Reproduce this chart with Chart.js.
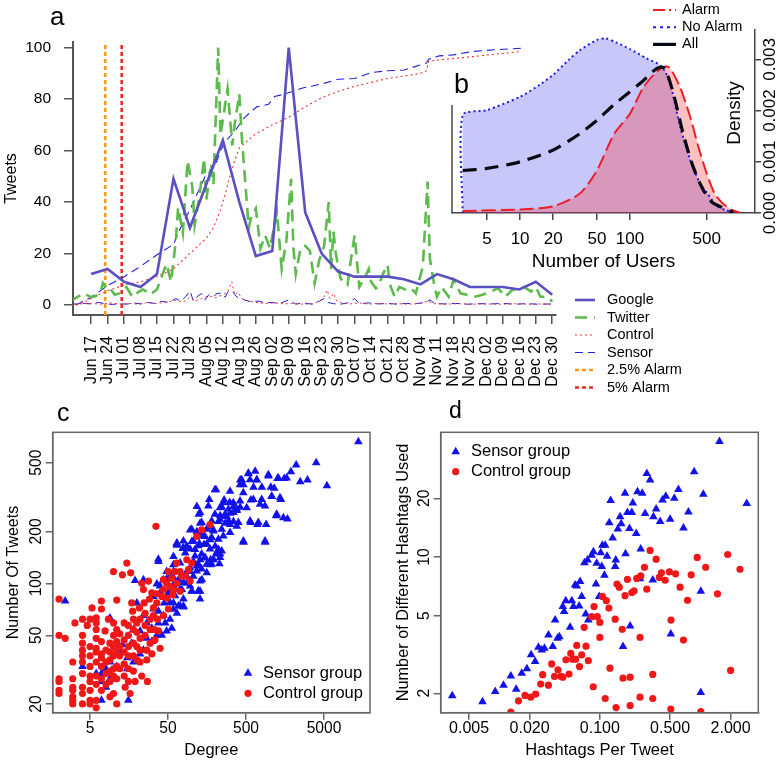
<!DOCTYPE html>
<html>
<head>
<meta charset="utf-8">
<script src="https://cdn.jsdelivr.net/npm/chart.js@4.4.0/dist/chart.umd.min.js"></script>
<style>
  body { margin: 0; background: #fff; }
  #wrap { position: relative; width: 783px; height: 764px; overflow: hidden; }
  canvas { position: absolute; }
</style>
</head>
<body>
<div id="wrap">
  <canvas id="chartA" width="783" height="400" style="left:0;top:0"></canvas>
  <canvas id="chartB" width="343" height="280" style="left:440px;top:0"></canvas>
  <canvas id="chartC" width="392" height="369" style="left:0;top:395px"></canvas>
  <canvas id="chartD" width="393" height="369" style="left:390px;top:395px"></canvas>
</div>
<script>
// ---- panel a: weekly google / daily twitter, sensor and control ----
const weekLabels = ['Jun 17','Jun 24','Jul 01','Jul 08','Jul 15','Jul 22','Jul 29','Aug 05','Aug 12','Aug 19','Aug 26',
  'Sep 02','Sep 09','Sep 16','Sep 23','Sep 30','Oct 07','Oct 14','Oct 21','Oct 28','Nov 04','Nov 11','Nov 18',
  'Nov 25','Dec 02','Dec 09','Dec 16','Dec 23','Dec 30'];
const googleTweets = [12,14,9,7,12,49,30,47,64,40,19,21,100,36,20,13,11,11,11,10,8,12,10,7,7,7,6,9,4];
const tweetTicks = [0,20,40,60,80,100];

// days counted from Jun 17
const twitterDays = [-9,-7,-5,-3,0,2,4,5,7,8,10,12,15,17,18,20,22,24,25,28,30,32,34,36,37,39,41,43,44,46,48,49,51,52,54,
  55,58,60,61,63,64,67,68,70,72,74,76,79,81,83,85,86,87,89,91,93,95,97,99,101,102,103,104,106,107,109,110,112,114,116,
  118,119,121,122,124,126,127,129,131,134,136,138,141,143,144,146,147,149,152,154,157,160,163,166,170,173,176,179,182,
  184,187,189,191,194,196];
const twitterTweets = [1.3,2.5,3.5,4.5,3,3.5,5,8.5,6,6.5,4,4.5,7,4,3,5,6,5,4,6,11,16,9,25,38,28,56,46,31,42,57,41,55,47,100,
  66,84,62,70,82,66,30,34,37.5,22,27,22,36,14,25,49,22,12,22,23,21,8.4,17.5,22.7,40,14,28.5,20,10.4,9,7.8,15,27,7,10,
  14,9,6.5,7,12,15.6,8,3.2,7,5.8,6.5,4.5,15,48,18,7,3.2,7,3.2,9.7,4.5,3.9,3.2,3.9,5.2,6.5,3.2,5.8,6.5,
  7,5.2,7,3.2,3.2,1.3];

const sensorCumDays = [-6.5,-3,0,7,14,21,28,35,38,42,45,48.5,52.7,55,57,61,65.4,70.4,75.4,78,82.4,89.5,98,105,112,119,126,
  133,140,142.5,143.5,148,154,162,172,183];
const sensorCum = [0,1.5,3,7.5,11,15,19.5,23.5,30,37,43,50,54,60,63.5,67.5,73,77,78,81,82,84.2,85.9,87.7,88,90.3,91,
  91.3,93.3,94,95.5,96.8,97.2,98.5,99.2,99.8];
const controlCumDays = [-6.5,-2,3,7,14,21,28,35,42,49,52,55,57,59,61,63,66,70,77,84,91,98,105,112,119,126,133,140,142.5,
  143.5,154,162,172,183];
const controlCum = [0,1.5,4,5.5,7.8,9,11,14,20,26,30,37,43,50,56,61,63.5,66.5,70,73,77,80.5,83,85,86.5,88,89,90,91,
  94.8,95.8,96.5,97.5,98.5];

const sensorDailyDays = [-9,-6,-3,0,3,6,9,12,15,18,21,24,27,30,33,36,38,40,42,43.5,45,47,48.5,50,52,53.5,55.5,57,58,60,
  61.5,63,65,68,71,74,77,80,84,87,90,94,97,99,100.5,103,106,109,112,114,118,122,126,130,134,138,142,144,146,150,155,160,
  165,170,175,180,185,190,196];
const sensorDaily = [0.5,0.3,0.6,0.4,1,0.5,0.2,0.5,0.3,0.8,0.4,1,0.6,1.4,1,2.5,1.5,3,5.5,1.5,3.2,4.5,2,4,3.2,4.5,4.5,3,5,5.5,
  3.5,2.5,2,1.2,1.5,0.8,1,0.5,2,0.3,0.8,0.3,1.5,2.5,1,0.5,0.3,0.8,2.5,0.5,0.8,0.4,0.6,0.3,0.6,0.5,1,2,0.6,0.4,0.6,0.3,
  0.5,0.4,0.6,0.3,0.5,0.3,0.4];
const controlDailyDays = [-9,-5,0,4,8,12,16,20,24,28,32,36,39,42,44,47,50,53,56,58,59.8,61,62.5,64,67,70,74,78,82,86,90,94,
  97,99,100.3,101.5,103,104.5,107,110,114,118,122,126,130,135,140,143,146,150,156,162,168,174,180,186,192,196];
const controlDaily = [0.2,0.4,0.6,0.3,0.8,0.4,0.6,0.3,0.9,0.5,1.2,1.8,1,3,1.5,2.5,3.5,2.8,4,5,9,4,5,2.5,1.5,1,0.6,0.8,0.4,0.6,
  0.3,0.5,1.5,3,5.8,2.5,4.5,1.5,0.6,0.4,0.8,0.3,0.6,0.4,0.5,0.3,0.6,1.5,0.5,0.3,0.5,0.3,0.4,0.3,0.5,0.3,0.4,0.3];
const alarmDays = [6, 13];

// ---- panel b: density of number of users ----
const userTicks = [5,10,20,50,100,500];
const densityTicks = [0,0.001,0.002,0.003];
const densityLabels = ['0.000','0.001','0.002','0.003'];
const noAlarmUsers = [3,3,5,10,15,20,28,35,50,60,75,100,142,195,232,286,353,434,500,616,760,1040];
const noAlarmDensity = [0,0.00191,0.00201,0.00227,0.0025,0.0027,0.003,0.00318,0.00338,0.00341,0.00333,0.0032,0.00302,
  0.00286,0.00253,0.00169,0.00104,0.00058,0.0004,0.00014,0.00005,0];
const alarmUsers = [3,10,20,35,50,72,100,133,175,210,232,286,353,420,500,590,705,870,1040];
const alarmDensity = [0.00004,0.00007,0.00013,0.00038,0.00083,0.00155,0.00194,0.00246,0.00276,0.00286,0.00283,0.00246,
  0.00188,0.00129,0.00077,0.00038,0.00018,0.00005,0];
const allUsers = [3,5,10,20,35,50,72,125,175,206,248,305,375,460,560,705,870];
const allDensity = [0.00083,0.00087,0.001,0.00123,0.00155,0.00181,0.00212,0.00254,0.00282,0.00283,0.00234,0.00155,
  0.00091,0.00047,0.00021,0.0001,0.00001];

// ---- panel c: degree vs number of tweets, [degree, tweets] ----
const degreeTicks = [5,50,500,5000];
const tweetCountTicks = [20,50,100,200,500];
const sensorC = [[13800,662],[3970,500],[2200,485],[5450,368],[3070,397],[2480,388],[1880,443],[1545,405],[1270,405],
  [970,418],[688,397],[538,432],[655,446],[421,397],[464,372],[624,360],[797,360],[1040,360],[1150,355],[1070,318],
  [1400,306],[1220,246],[1700,236],[905,219],[700,219],[576,225],[464,173],[880,173],[576,304],[421,276],[345,279],
  [309,294],[262,304],[245,276],[206,348],[169,306],[124,251],[117,279],[233,246],[284,244],[313,255],[381,264],
  [381,214],[345,228],[313,219],[270,223],[222,228],[191,204],[165,212],[149,187],[129,223],[136,195],[117,199],
  [96,204],[101,175],[87,164],[77,159],[65,166],[111,157],[126,170],[145,168],[173,179],[201,164],[222,157],[211,148],
  [233,148],[176,137],[149,140],[129,137],[117,126],[106,134],[96,117],[87,117],[71.5,131],[58.7,128],[58.7,117],
  [53,110],[48,117],[37.7,134],[43.7,105],[36,99],[58.7,98],[68,105],[87,100],[75,92],[62,92],[129,103],[157,115],
  [173,128],[228,130],[191,137],[101,90],[123,90],[136,105],[50.5,86],[44.6,77],[58.7,77],[71.5,74],[79,73],[65,67],
  [53,62],[46,59],[37.7,59],[31,55],[26.7,48],[31,46],[35.9,50],[41.6,50],[48,53],[55.8,55],[24.2,65],[19.9,77],
  [32.5,84],[39.6,88],[32.5,71],[26.7,59],[21.9,53],[18,54],[17,45],[13,44],[15,37],[12,40],[11,33],[9,35],[8,32],
  [7,30],[6,30],[4,33],[7,27],[9,28],[10,28],[15,32],[18,35],[21.9,39],[24.2,41],[9,63],[15.5,21],[8,25],[7,21],[2.4,79],
  [18.9,104],[24.2,105],[37.7,69],[43.7,65],[129,90],[58.7,143],[83,150],[65,171],
  [200,349],[312,342],[419,373],[563,398],[685,398],[462,335],[621,306],[794,306],[256,293],[344,293],[419,300],
  [164.5,281],[232,274],[297,269],[380,269],[510,274],[756,287],[876,281],[128.5,257],[200,251],[269,251],[344,257],
  [181.5,230],[232,235],[297,230],[399,225],[563,230],[720,225],[135,225],[100.5,206],[156.6,206],[190.6,201],
  [244,206],[312,197],[142,188],[181.5,184],[221,180],[256,188],[78.7,176],[105.6,176],[156.6,169],[122.4,165],
  [78.7,161],[95.7,158],[172.7,158],[210,151],[244,154],[135,148],[64.6,169],[111,144],[149,141],[190.6,138],[232,141],
  [122.4,129],[156.6,129],[181.5,129],[95.7,123],[116.5,118],[135,121],[86.7,110],[105.6,110],[78.7,101],[95.7,96.6],
  [58.5,108],[71.2,92.4],[100.5,90.4],[122.4,90.4],[61.5,84.7],[78.7,81],[48,106],[39.5,96.6],[50.5,88.3],[53,77.5],
  [67.8,74],[128.5,81],[58.5,70.8],[78.7,74],[37.6,138],[462,176],[876,176],[1505,240],[1236,251],[1066,320],
  [1364,313],[967,425],[1298,407],[1660,407],[535,434],[440,398]];
const controlC = [[2,81],[2,50],[2,28],[2,27],[2,24],[2,23],[3,28],[3,25],[3,24],[3,22],[3,21],[3,20],[2.4,48],[3,35],
  [4,62],[4,50],[4,45],[4,41],[4,38],[4,35],[4,30],[4,25],[4,23],[4,20],[5,62],[5,43],[5,38],[5,33],[5,29],[5,27],[5,24],
  [5,21],[5,20],[6,63],[6,59],[6,54],[6,48],[6,42],[6,40],[6,35],[6,29],[6,26],[6,21],[6,19],[7,79],[7,46],[7,39],
  [7,37],[7,33],[7,28],[7,24],[8,41],[8,35],[8,30],[8,26],[9,45],[9,40],[9,36],[9,31],[9,27],[9,22],[10,59],[10,50],
  [10,43],[10,38],[10,32],[10,29],[10,23],[11,80],[11,54],[11,46],[11,40],[11,33],[11,28],[11,20],[12,51],[12,43],
  [12,38],[12,32],[13,112],[13.7,59],[13.7,47],[13.7,40],[13.7,34],[13.7,29],[14.1,25],[14.8,131],[15.5,57],[15.5,50],
  [15.5,43],[15.5,38],[15.5,32],[15.5,27],[16.3,23],[17.1,77],[17.6,69],[18,62],[18,54],[18,45],[18,38],[18,31],
  [18.9,27],[19.9,59],[19.9,52],[19.9,43],[19.9,36],[21.5,72],[21.9,62],[21.9,48],[21.9,41],[21.9,35],[23,29],[24.2,92],
  [24.7,77],[25.4,67],[25.4,57],[25.4,50],[26.7,41],[26.7,36],[27.2,27],[28.1,103],[28.9,81],[29.5,62],[29.5,54],
  [29.5,45],[31,39],[32.5,72],[32.5,65],[33.2,54],[34,47],[35,214],[35.9,87],[35.9,77],[36.6,62],[37.7,53],[39.6,42],
  [41.6,84],[43.7,105],[43.7,92],[43.7,65],[48,100],[48,82],[50.5,117],[53,96],[55.8,107],[58.7,92],[61.7,117],
  [64.8,131],[64.8,100],[71.5,117],[71.5,90],[75,110],[83,110],[87,137],[91.5,120],[96,103],[101,131],[117,187],
  [135,204],[173,219],[57.5,86],[50.5,71],[31,88],[23,100],[16.6,115],[10,117],[7,71],[8.6,62],[7.8,53],[5.3,72],
  [4.6,57],[3.2,59]];

// ---- panel d: hashtags per tweet vs number of hashtags, [perTweet, hashtags] ----
const perTweetTicks = [0.005,0.02,0.1,0.5,2];
const perTweetLabels = ['0.005','0.020','0.100','0.500','2.000'];
const hashtagTicks = [2,5,10,20];
const sensorD = [[0.0034,1.94],[0.0068,1.81],[0.0091,2.04],[0.011,2.2],[0.013,2.45],[0.0147,2.1],[0.0167,2.53],
  [0.0188,2.67],[0.0207,3.15],[0.0227,2.91],[0.0245,3.44],[0.0264,3.33],[0.0281,3.4],[0.0308,3.98],[0.034,3.47],
  [0.0379,3.83],[0.0396,3.9],[0.0359,4.75],[0.0428,5.57],[0.0441,5.25],[0.0458,5.97],[0.0526,5.97],[0.0506,4.36],
  [0.0546,5.57],[0.0567,7.19],[0.0589,7.1],[0.0622,5.6],[0.0636,7.48],[0.066,6.28],[0.0724,5.1],[0.0768,4.75],
  [0.0703,9.35],[0.0755,9.66],[0.0829,10.2],[0.0863,10.65],[0.093,9.3],[0.0915,7.27],[0.0985,6.28],[0.1045,8.93],
  [0.106,11.5],[0.113,11.5],[0.102,10.5],[0.111,8.05],[0.118,10.1],[0.124,15],[0.128,19.5],[0.134,12.5],[0.144,9.66],
  [0.142,8.93],[0.151,13.9],[0.159,16.1],[0.163,14.8],[0.17,3.47],[0.178,21.2],[0.18,10.4],[0.188,16.9],[0.197,14],
  [0.2,4.43],[0.213,18.9],[0.208,16.9],[0.23,13.2],[0.237,21.6],[0.251,7.74],[0.255,11],[0.264,21.2],[0.293,26.8],
  [0.316,24.8],[0.282,16.7],[0.336,7.62],[0.341,16.1],[0.363,17.6],[0.398,15.2],[0.42,19.6],[0.453,20.5],[0.5,15.6],
  [0.508,4.03],[0.55,20],[0.605,22.2],[0.679,14.1],[0.761,17],[0.867,27.4],[1.01,6.68],[1.01,2.02],[1.07,21],
  [1.55,39.1],[2.89,18.8]];
const controlD = [[0.013,1.6],[0.0155,1.83],[0.018,1.95],[0.0205,1.91],[0.023,1.98],[0.0258,2.23],[0.027,2.49],
  [0.0308,2.2],[0.0332,2.83],[0.0354,2.44],[0.0383,2.64],[0.041,2.44],[0.0428,2.42],[0.046,2.97],[0.0493,2.51],
  [0.0514,3.2],[0.0537,2.99],[0.0574,2.99],[0.0589,3.52],[0.0627,2.74],[0.066,3.15],[0.0698,4.36],[0.0728,3.49],
  [0.0768,2.94],[0.0829,4.94],[0.086,2.16],[0.0875,5.57],[0.0944,4.94],[0.1,4.62],[0.1,3.87],[0.106,6.28],[0.113,1.88],
  [0.116,5.97],[0.123,5.47],[0.126,2.69],[0.142,4.8],[0.145,1.69],[0.148,7.27],[0.156,7],[0.167,4.26],[0.17,2.39],
  [0.178,6.33],[0.188,7.67],[0.2,2.42],[0.2,1.73],[0.208,6.57],[0.219,6.7],[0.233,7.76],[0.251,3.87],[0.251,1.91],
  [0.255,8],[0.278,8.86],[0.293,6.84],[0.316,10.8],[0.336,2.5],[0.336,1.88],[0.363,9.74],[0.39,7.86],[0.41,8.3],
  [0.446,7.6],[0.492,8.38],[0.51,4.75],[0.508,1.66],[0.567,8.2],[0.628,7],[0.679,3.75],[0.745,6],[0.81,8.1],
  [0.93,9.95],[1.01,1.61],[1.13,8.86],[1.48,6.47],[1.87,10.3],[2,2.62],[2.48,8.65]];

// ---- helpers ----
const FONT = '"Liberation Sans", Arial, Helvetica, sans-serif';
Chart.defaults.font.family = FONT;
Chart.defaults.color = '#000';
Chart.defaults.animation = false;
Chart.defaults.plugins.legend.display = false;
Chart.defaults.plugins.tooltip.enabled = false;

const BLUE = 'rgb(18,18,232)';
const RED = 'rgb(238,24,24)';
const GRAY = '#666';

const pts = (xs, ys) => xs.map((x, i) => ({ x, y: ys[i] }));
const pairs = arr => arr.map(([x, y]) => ({ x, y }));
const fixTicks = vals => scale => { scale.ticks = vals.map(v => ({ value: v })); };

function axisStyle(color, tick, width) {
  return {
    grid: { drawOnChartArea: false, drawTicks: true, tickLength: tick, color, lineWidth: 1.5 },
    border: { display: true, color, width: width || 1.5 }
  };
}

function line(label, data, color, width, dash, order) {
  return { label, data, borderColor: color, backgroundColor: color, borderWidth: width, borderDash: dash,
    showLine: true, pointRadius: 0, fill: false, tension: 0, order };
}

function text(ctx, str, x, y, size, align, rot) {
  ctx.save();
  ctx.font = size + 'px ' + FONT;
  ctx.fillStyle = '#000';
  ctx.textAlign = align || 'left';
  ctx.textBaseline = 'middle';
  ctx.translate(x, y);
  if (rot) ctx.rotate(-Math.PI / 2);
  ctx.fillText(str, 0, 0);
  ctx.restore();
}

function rotatedTicks(chart, axis, vals, labels, x, size) {
  const s = chart.scales[axis];
  vals.forEach((v, i) => text(chart.ctx, labels[i], x, s.getPixelForValue(v), size, 'center', true));
}

function legendLine(ctx, x0, x1, y, ds) {
  ctx.save();
  ctx.strokeStyle = ds.borderColor;
  ctx.lineWidth = ds.borderWidth;
  ctx.setLineDash(ds.borderDash || []);
  ctx.beginPath(); ctx.moveTo(x0, y); ctx.lineTo(x1, y); ctx.stroke();
  ctx.restore();
}

function legendMark(ctx, x, y, ds) {
  ctx.save();
  ctx.fillStyle = ds.backgroundColor;
  Chart.helpers.drawPoint(ctx, { pointStyle: ds.pointStyle, radius: ds.pointRadius, rotation: 0, borderWidth: 0 }, x, y);
  ctx.restore();
}

const framePlugin = {
  id: 'frame',
  afterDraw(chart) {
    const a = chart.chartArea, ctx = chart.ctx;
    ctx.save();
    ctx.strokeStyle = GRAY; ctx.lineWidth = 1.5;
    ctx.strokeRect(a.left, a.top, a.right - a.left, a.bottom - a.top);
    ctx.restore();
  }
};

// ---- chart a ----
const weekDays = weekLabels.map((_, i) => i * 7);
const A_MIN = -3.9, A_MAX = 102.2;
const alarmLine = d => [{ x: d, y: A_MIN }, { x: d, y: A_MAX }];

new Chart(document.getElementById('chartA'), {
  type: 'scatter',
  data: { datasets: [
    line('Google', pts(weekDays, googleTweets), '#5a50c0', 2.6, [], 0),
    line('Twitter', pts(twitterDays, twitterTweets), '#5cbb4c', 2.6, [12, 7], 1),
    line('Control', pts(controlCumDays, controlCum), '#f03232', 1.1, [2, 3], 2),
    line('Sensor', pts(sensorCumDays, sensorCum), '#2020d8', 1.1, [8, 5], 3),
    line('', pts(controlDailyDays, controlDaily), '#f03232', 1, [2, 3], 4),
    line('', pts(sensorDailyDays, sensorDaily), '#2020d8', 1, [8, 5], 5),
    line('2.5% Alarm', alarmLine(alarmDays[0]), '#ff9a14', 2.6, [4, 3], 6),
    line('5% Alarm', alarmLine(alarmDays[1]), '#e4301e', 2.6, [4, 3], 7)
  ]},
  options: {
    responsive: false, devicePixelRatio: 1,
    layout: { padding: { left: 0, top: 42, right: 227, bottom: 0 } },
    scales: {
      x: {
        type: 'linear', min: -7.7, max: 197.6,
        afterBuildTicks: fixTicks(weekDays),
        afterFit: s => { s.height = 85; },
        ticks: { autoSkip: false, minRotation: 90, maxRotation: 90, padding: 12, font: { size: 16 },
          callback: (v, i) => weekLabels[i] },
        ...axisStyle('#555', 9, 2)
      },
      y: {
        min: A_MIN, max: A_MAX,
        afterBuildTicks: fixTicks(tweetTicks),
        afterFit: s => { s.width = 73; },
        ticks: { padding: 13, font: { size: 15.5 } },
        ...axisStyle('#555', 9, 2),
        title: { display: true, text: 'Tweets', font: { size: 16 }, padding: { top: 2 } }
      }
    }
  },
  plugins: [{
    id: 'decorA',
    afterDraw(chart) {
      const ctx = chart.ctx;
      text(ctx, 'a', 50, 18, 26);
      const named = chart.data.datasets.filter(ds => ds.label);
      named.forEach((ds, i) => {
        const y = 300 + i * 17.5;
        legendLine(ctx, 575, 595, y, ds);
        text(ctx, ds.label, 607, y, 14.5);
      });
    }
  }]
});

// ---- chart b (inset) ----
const B_MAX = 0.003574;
new Chart(document.getElementById('chartB'), {
  type: 'scatter',
  data: { datasets: [
    { label: 'No Alarm', data: pts(noAlarmUsers, noAlarmDensity), showLine: true, pointRadius: 0, tension: 0.25,
      borderColor: '#1c1ce0', borderWidth: 2, borderDash: [2, 3], fill: 'origin', backgroundColor: 'rgba(40,40,235,0.26)', order: 3 },
    { label: 'Alarm', data: pts(alarmUsers, alarmDensity), showLine: true, pointRadius: 0, tension: 0.25,
      borderColor: '#e8202a', borderWidth: 2, borderDash: [14, 5], fill: 'origin', backgroundColor: 'rgba(255,45,45,0.3)', order: 2 },
    { label: 'All', data: pts(allUsers, allDensity), showLine: true, pointRadius: 0, tension: 0.25,
      borderColor: '#0a0a14', borderWidth: 3.2, borderDash: [14, 8], fill: false, order: 1 }
  ]},
  options: {
    responsive: false, devicePixelRatio: 1,
    layout: { padding: { left: 12, top: 30, right: 0, bottom: 0 } },
    plugins: { filler: { drawTime: 'beforeDatasetsDraw' } },
    scales: {
      x: {
        type: 'logarithmic', min: 2.4, max: 1375,
        afterBuildTicks: fixTicks(userTicks),
        afterFit: s => { s.height = 67; },
        ticks: { padding: 9.5, font: { size: 17, lineHeight: 1.1 }, callback: v => String(v) },
        ...axisStyle('#444', 7),
        title: { display: true, text: 'Number of Users', font: { size: 19 }, padding: { top: 0, bottom: 6.6 } }
      },
      y: {
        position: 'right', min: 0, max: B_MAX,
        afterBuildTicks: fixTicks(densityTicks),
        afterFit: s => { s.width = 28; },
        ticks: { display: false },
        ...axisStyle('#444', 6)
      }
    }
  },
  plugins: [{
    id: 'decorB',
    afterDraw(chart) {
      const ctx = chart.ctx, a = chart.chartArea, ys = chart.scales.y;
      ctx.save();
      ctx.strokeStyle = '#444'; ctx.lineWidth = 1.5;
      ctx.beginPath(); ctx.moveTo(a.left, ys.getPixelForValue(0.00211)); ctx.lineTo(a.left, a.bottom); ctx.stroke();
      ctx.restore();
      rotatedTicks(chart, 'y', densityTicks, densityLabels, 330, 17);
      text(ctx, 'Density', 295, 113, 19, 'center', true);
      text(ctx, 'b', 14, 86, 27);
      const ds = chart.data.datasets;
      const rows = [[ds[1], 'Alarm', [12, 4, 2, 4]], [ds[0], 'No Alarm', [3, 4]], [ds[2], 'All', []]];
      rows.forEach(([d, name, dash], i) => {
        const y = 10 + i * 17.2;
        legendLine(ctx, 213, 236, y, { borderColor: d.borderColor, borderWidth: d.borderWidth, borderDash: dash });
        text(ctx, name, 242, y, 14.5);
      });
    }
  }]
});

// ---- chart c ----
const scatterSets = (sensor, control) => [
  { label: 'Control group', data: pairs(control), pointStyle: 'circle', pointRadius: 3.6, backgroundColor: RED, borderWidth: 0, order: 1 },
  { label: 'Sensor group', data: pairs(sensor), pointStyle: 'triangle', pointRadius: 5, backgroundColor: BLUE, borderWidth: 0, order: 2 }
];

new Chart(document.getElementById('chartC'), {
  type: 'scatter',
  data: { datasets: scatterSets(sensorC, controlC) },
  options: {
    responsive: false, devicePixelRatio: 1,
    layout: { padding: { left: 0, top: 37.3, right: 22, bottom: 0 } },
    scales: {
      x: {
        type: 'logarithmic', min: 1.66, max: 19450,
        afterBuildTicks: fixTicks(degreeTicks),
        afterFit: s => { s.height = 51.3; },
        ticks: { padding: 0, font: { size: 15.6, lineHeight: 1.1 }, callback: v => String(v) },
        ...axisStyle(GRAY, 7),
        title: { display: true, text: 'Degree', font: { size: 16.5 }, padding: { top: 0, bottom: 4.1 } }
      },
      y: {
        type: 'logarithmic', min: 17.8, max: 750,
        afterBuildTicks: fixTicks(tweetCountTicks),
        afterFit: s => { s.width = 52.7; },
        ticks: { display: false },
        ...axisStyle(GRAY, 7),
        title: { display: true, text: 'Number Of Tweets', font: { size: 16 }, padding: { top: 4.4 } }
      }
    }
  },
  plugins: [framePlugin, {
    id: 'decorC',
    afterDraw(chart) {
      const ctx = chart.ctx, ds = chart.data.datasets;
      rotatedTicks(chart, 'y', tweetCountTicks, tweetCountTicks.map(String), 36.5, 15.6);
      text(ctx, 'c', 57, 19, 25);
      legendMark(ctx, 248, 278.3, ds[1]); text(ctx, ds[1].label, 263, 278.3, 16.5);
      legendMark(ctx, 248, 298.3, ds[0]); text(ctx, ds[0].label, 263, 298.3, 16.5);
    }
  }]
});

// ---- chart d ----
new Chart(document.getElementById('chartD'), {
  type: 'scatter',
  data: { datasets: scatterSets(sensorD, controlD) },
  options: {
    responsive: false, devicePixelRatio: 1,
    layout: { padding: { left: 0, top: 37.3, right: 24.7, bottom: 0 } },
    scales: {
      x: {
        type: 'logarithmic', min: 0.00261, max: 3.77,
        afterBuildTicks: fixTicks(perTweetTicks),
        afterFit: s => { s.height = 51.3; },
        ticks: { padding: 0, font: { size: 16, lineHeight: 1.1 }, callback: (v, i) => perTweetLabels[i] },
        ...axisStyle(GRAY, 7),
        title: { display: true, text: 'Hashtags Per Tweet', font: { size: 16.5 }, padding: { top: 0, bottom: 4.1 } }
      },
      y: {
        type: 'logarithmic', min: 1.59, max: 43.6,
        afterBuildTicks: fixTicks(hashtagTicks),
        afterFit: s => { s.width = 50.7; },
        ticks: { display: false },
        ...axisStyle(GRAY, 7),
        title: { display: true, text: 'Number of Different Hashtags Used', font: { size: 16.3 }, padding: { top: 3.7 } }
      }
    }
  },
  plugins: [framePlugin, {
    id: 'decorD',
    afterDraw(chart) {
      const ctx = chart.ctx, ds = chart.data.datasets;
      rotatedTicks(chart, 'y', hashtagTicks, hashtagTicks.map(String), 35, 15.6);
      text(ctx, 'd', 59, 17, 23);
      legendMark(ctx, 65.7, 56.7, ds[1]); text(ctx, ds[1].label, 81, 56.7, 16.5);
      legendMark(ctx, 65.7, 76.7, ds[0]); text(ctx, ds[0].label, 81, 76.7, 16.5);
    }
  }]
});
</script>
</body>
</html>
